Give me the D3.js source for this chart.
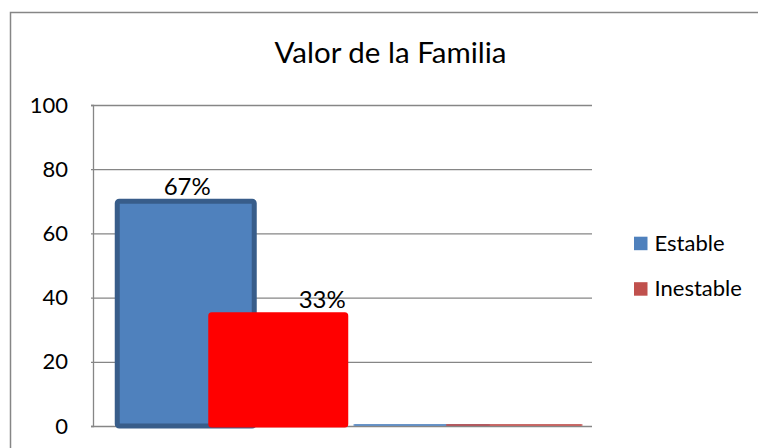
<!DOCTYPE html>
<html>
<head>
<meta charset="utf-8">
<script src="https://cdn.jsdelivr.net/npm/d3@7"></script>
<style>
  body { margin: 0; background: #fff; }
  svg { display: block; font-family: Lato, "Open Sans", sans-serif; }
</style>
</head>
<body>
<div id="chart"></div>
<script>
// Datos del gráfico
const categories = ["1", "2"];
const series = ["Estable", "Inestable"];
const estableValues = [70, 0];
const inestableValues = [35, 0];
const estableLabels = ["67%", ""];
const inestableLabels = ["33%", ""];
const yTicks = [0, 20, 40, 60, 80, 100];
const title = "Valor de la Familia";

const W = 758, H = 448;
const plot = {left: 93, right: 592, top: 105, bottom: 426};

const seriesColor = {Estable: "#4F81BD", Inestable: "#C0504D"};
// formato propio de algunos puntos (como en la hoja original)
const pointStyle = {
  "1|Estable": {fill: "#4F81BD", stroke: "#385D8A", sw: 5},
  "1|Inestable": {fill: "#FF0000", stroke: "#FF0000", sw: 3}
};
const labelDx = {Estable: 1.5, Inestable: 44};

const svg = d3.select("#chart").append("svg")
    .attr("width", W)
    .attr("height", H);

// borde del área del gráfico
svg.append("rect")
    .attr("x", 10.5).attr("y", 12.5)
    .attr("width", 800).attr("height", 500)
    .attr("fill", "none")
    .attr("stroke", "#868686")
    .attr("stroke-width", 1.5);

svg.append("text")
    .attr("x", 390.5).attr("y", 63)
    .attr("text-anchor", "middle")
    .style("font-size", "29.5px")
    .text(title);

const y = d3.scaleLinear().domain([0, 100]).range([plot.bottom, plot.top]);
const x = d3.scaleBand().domain(categories).range([114, 586]);
const xs = d3.scalePoint().domain(series).range([-46.25, 46.25]);
const barW = 137;

// líneas de división
svg.append("g")
    .attr("transform", `translate(${plot.left},0)`)
    .call(d3.axisLeft(y).tickValues(yTicks).tickSize(-(plot.right - plot.left)).tickFormat(""))
    .call(g => g.select(".domain").remove())
    .call(g => g.selectAll("line").attr("stroke", "#868686").attr("stroke-width", 1.3));

// eje Y
svg.append("g")
    .attr("transform", `translate(${plot.left},0)`)
    .call(d3.axisLeft(y).tickValues(yTicks).tickSize(2).tickPadding(23))
    .call(g => g.select(".domain").attr("stroke", "#868686").attr("stroke-width", 1.3))
    .call(g => g.selectAll("line").attr("stroke", "#868686").attr("stroke-width", 1.3))
    .call(g => g.selectAll("text").attr("fill", "#000").style("font-size", "22px").style("font-family", "Lato, sans-serif"));

const rows = [];
series.forEach((s, si) => {
  const vals = si === 0 ? estableValues : inestableValues;
  const labs = si === 0 ? estableLabels : inestableLabels;
  categories.forEach((c, ci) => {
    rows.push({cat: c, s: s, v: vals[ci], label: labs[ci]});
  });
});

const bars = svg.append("g");
bars.selectAll("rect")
    .data(rows)
    .join("rect")
    .attr("x", d => x(d.cat) + x.bandwidth() / 2 + xs(d.s) - barW / 2)
    .attr("width", barW)
    .attr("y", d => {
      const h = y(0) - y(d.v);
      return h < 2 ? y(0) - 2 : y(d.v);
    })
    .attr("height", d => Math.max(y(0) - y(d.v), 2))
    .attr("rx", 2)
    .attr("fill", d => (pointStyle[d.cat + "|" + d.s] || {fill: seriesColor[d.s]}).fill)
    .attr("fill-opacity", d => pointStyle[d.cat + "|" + d.s] ? 1 : 0.85)
    .attr("stroke", d => (pointStyle[d.cat + "|" + d.s] || {stroke: "none"}).stroke)
    .attr("stroke-width", d => (pointStyle[d.cat + "|" + d.s] || {sw: 0}).sw);

// etiquetas de datos
svg.append("g").selectAll("text")
    .data(rows.filter(d => d.label))
    .join("text")
    .attr("x", d => x(d.cat) + x.bandwidth() / 2 + xs(d.s) + labelDx[d.s])
    .attr("y", d => y(d.v) - 6)
    .attr("text-anchor", "middle")
    .style("font-size", "24px")
    .text(d => d.label);

// leyenda
const legend = svg.append("g").selectAll("g")
    .data(series)
    .join("g")
    .attr("transform", (d, i) => `translate(634,${236.7 + i * 45.5})`);
legend.append("rect")
    .attr("width", 13.5).attr("height", 13.5)
    .attr("fill", d => seriesColor[d]);
legend.append("text")
    .attr("x", 20.5).attr("y", 14)
    .style("font-size", "22px")
    .text(d => d);
</script>
</body>
</html>
